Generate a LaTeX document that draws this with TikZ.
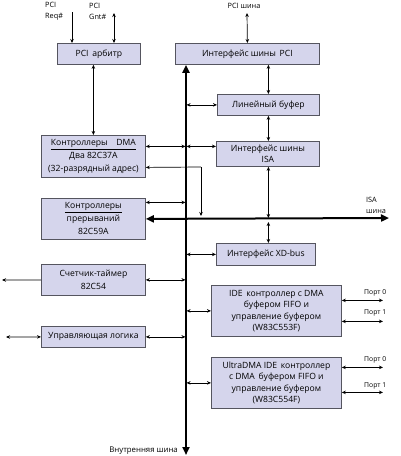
\documentclass[tikz,border=0pt]{standalone}
\usepackage{fontspec}
\setmainfont{Open Sans}
\usetikzlibrary{arrows.meta}
\definecolor{boxfill}{RGB}{213,213,236}
\definecolor{boxline}{RGB}{85,85,95}
\tikzset{
  box/.style={draw=boxline, fill=boxfill, line width=0.8pt, anchor=north west, inner sep=1pt, align=center, font=\fontsize{8.6}{11}\selectfont},
  lnk/.style={line width=0.7pt, {Stealth[length=4pt,width=3.5pt]}-{Stealth[length=4pt,width=3.5pt]}},
  lnkr/.style={line width=0.7pt, -{Stealth[length=4pt,width=3.5pt]}},
  thickbus/.style={line width=2pt, {Triangle[length=8pt,width=7pt]}-{Triangle[length=8pt,width=7pt]}},
  lbl/.style={font=\fontsize{7.3}{11}\selectfont, inner sep=0pt, align=left},
}
\begin{document}
\begin{tikzpicture}[x=1pt,y=-1pt]
\useasboundingbox (0,0) rectangle (400,456);
% boxes
\node[box, minimum width=83pt, minimum height=21pt] (arb) at (57,43) {PCI\, арбитр};
\node[box, minimum width=144pt, minimum height=21pt] (pci) at (175,43) {Интерфейс шины\, PCI};
\node[box, minimum width=102pt, minimum height=21pt] (lin) at (217,94) {Линейный буфер};
\node[box, minimum width=103pt, minimum height=25pt, font=\fontsize{8.6}{10.5}\selectfont] (isa) at (216,141) {Интерфейс шины\\ISA};
\node[box, minimum width=104pt, minimum height=42pt, font=\fontsize{8.6}{13}\selectfont] (dma) at (41,135) {\underline{Контроллеры\quad DMA}\\Два 82C37A\\(32-разрядный адрес)};
\node[box, minimum width=104pt, minimum height=41pt, font=\fontsize{8.6}{13}\selectfont] (irq) at (41,198) {\underline{Контроллеры}\\прерываний\\82C59A};
\node[box, minimum width=99pt, minimum height=22pt] (xd) at (216,243) {Интерфейс XD-bus};
\node[box, minimum width=104pt, minimum height=31pt, font=\fontsize{8.6}{13}\selectfont] (tmr) at (41,264) {Счетчик-таймер\\82C54};
\node[box, minimum width=104pt, minimum height=21pt] (ctl) at (41,326) {Управляющая логика};
\node[box, minimum width=130pt, minimum height=51pt, font=\fontsize{8.6}{11.5}\selectfont] (ide) at (211,285) {IDE\, контроллер с DMA\\буфером FIFO и\\управление буфером\\(W83C553F)};
\node[box, minimum width=130pt, minimum height=51pt, font=\fontsize{8.6}{11.5}\selectfont] (udma) at (211,357) {UltraDMA IDE\, контроллер\\с DMA\, буфером FIFO и\\управление буфером\\(W83C554F)};
% coordinates
\coordinate (bus) at (186,0);
\coordinate (req) at (72,12);
\coordinate (gnt) at (114,13);
\coordinate (pcibus) at (247,13);
\coordinate (busend) at (186,455);
\coordinate (isaend) at (389,218);
\coordinate (dmacorner) at (201,167);
\coordinate (tmrleft) at (2,280);
\coordinate (ctlleft) at (6,337);
% internal bus
\draw[thickbus] (bus |- pci.south) -- (busend);
% ISA bus
\draw[thickbus] (irq.east) -- (isaend);
% top signals
\draw[lnkr] (req) -- (req |- arb.north);
\draw[lnk] (gnt) -- (gnt |- arb.north);
\draw[lnk] (pcibus) -- (pci.north);
\draw[lnk] ([xshift=-5.5pt]arb.south) -- ([xshift=-5.5pt]arb.south |- dma.north);
\draw[lnk] (pci.south -| lin.north) -- (lin.north);
\draw[lnk] (lin.south) -- (lin.south |- isa.north);
\draw[lnk] (lin.south |- isa.south) -- (lin.south |- isaend);
\draw[lnk] ([yshift=-4pt]lin.south |- isaend) -- (lin.south |- xd.north);
% left boxes to bus
\draw[lnk, shorten >=0.5pt] ([yshift=10pt]dma.east) -- ([yshift=10pt]dma.east -| bus);
\draw[line width=0.7pt, {Stealth[length=4pt,width=3.5pt]}-] ([yshift=-11pt]dma.east) -- (dmacorner);
\draw[lnkr, shorten >=2pt] (dmacorner) -- (dmacorner |- isaend);
\draw[lnk, shorten >=0.5pt] ([yshift=16.5pt]irq.east) -- ([yshift=16.5pt]irq.east -| bus);
\draw[lnk, shorten >=0.5pt] (tmr.east) -- (tmr.east -| bus);
\draw[lnkr] (tmr.west) -- (tmrleft);
\draw[lnk, shorten >=0.5pt] (ctl.east) -- (ctl.east -| bus);
\draw[lnk] (ctlleft) -- (ctl.west);
% right boxes from bus
\draw[lnk, shorten <=0.5pt] (lin.west -| bus) -- (lin.west);
\draw[lnk, shorten <=0.5pt] ([yshift=7.5pt]isa.west -| bus) -- ([yshift=7.5pt]isa.west);
\draw[lnk, shorten <=0.5pt] (xd.west -| bus) -- (xd.west);
\draw[lnk, shorten <=0.5pt] (ide.west -| bus) -- (ide.west);
\draw[lnk, shorten <=0.5pt] (udma.west -| bus) -- (udma.west);
% ports
\coordinate (portx) at (383,0);
\draw[lnk] ([yshift=10.5pt]ide.east) -- ([yshift=10.5pt]ide.east -| portx);
\draw[lnk] ([yshift=-10.5pt]ide.east) -- ([yshift=-10.5pt]ide.east -| portx);
\draw[lnk] ([yshift=15.5pt]udma.east) -- ([yshift=15.5pt]udma.east -| portx);
\draw[lnk] ([yshift=-9.5pt]udma.east) -- ([yshift=-9.5pt]udma.east -| portx);
% labels
\node[lbl, anchor=west] (lreq) at (45,11) {PCI\\Req\#};
\node[lbl, anchor=west] (lgnt) at (89,11) {PCI\\Gnt\#};
\node[lbl] (lpci) at (244,6) {PCI шина};
\node[lbl, anchor=west] (lisa) at (366,205) {ISA\\шина};
\node[lbl, font=\fontsize{7.8}{10}\selectfont, anchor=east] (lint) at (178,451) {Внутренняя шина};
\node[lbl, font=\fontsize{6.8}{10}\selectfont, anchor=west] (p0a) at (364,293) {Порт 0};
\node[lbl, font=\fontsize{6.8}{10}\selectfont, anchor=west] (p1a) at (364,313) {Порт 1};
\node[lbl, font=\fontsize{6.8}{10}\selectfont, anchor=west] (p0b) at (364,360) {Порт 0};
\node[lbl, font=\fontsize{6.8}{10}\selectfont, anchor=west] (p1b) at (364,386) {Порт 1};
\end{tikzpicture}
\end{document}
